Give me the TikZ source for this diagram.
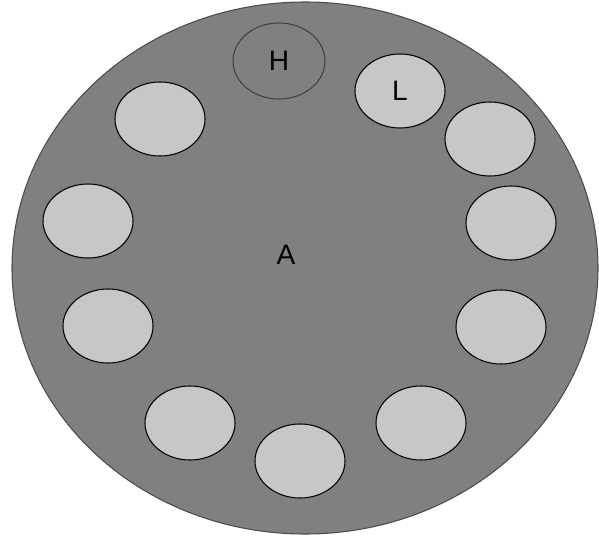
\documentclass[tikz,border=0pt]{standalone}
\usepackage{fontspec}
\setmainfont{Liberation Sans}
\usetikzlibrary{calc}

\begin{document}
\begin{tikzpicture}[x=0.03cm,y=-0.03cm,line width=0.9pt]
  \useasboundingbox (0,0) rectangle (599,537);

  \def\rx{45}
  \def\ry{37}

  % plate
  \fill[black!50,draw=black!70] (305,268) ellipse ({293} and {266});

  % holder
  \draw[black!75] (279,61) ellipse ({\rx+1} and {\ry+1});
  \node[font=\fontsize{24}{26}\selectfont] (h) at (279,61) {H};

  % wells
  \foreach \p [count=\j] in {%
    {400,91},%
    {160,119},%
    {490,139},%
    {88,221},%
    {511,223},%
    {108,326},%
    {501,327},%
    {190,423},%
    {300,461},%
    {421,423}%
  } {
    \coordinate (w\j) at (\p);
    \fill[black!22,draw=black] (w\j) ellipse ({\rx} and {\ry});
  }

  \node[font=\fontsize{24}{26}\selectfont] (l) at (w1) {L};
  \node[font=\fontsize{24}{26}\selectfont] (a) at (286,255) {A};

\end{tikzpicture}
\end{document}
